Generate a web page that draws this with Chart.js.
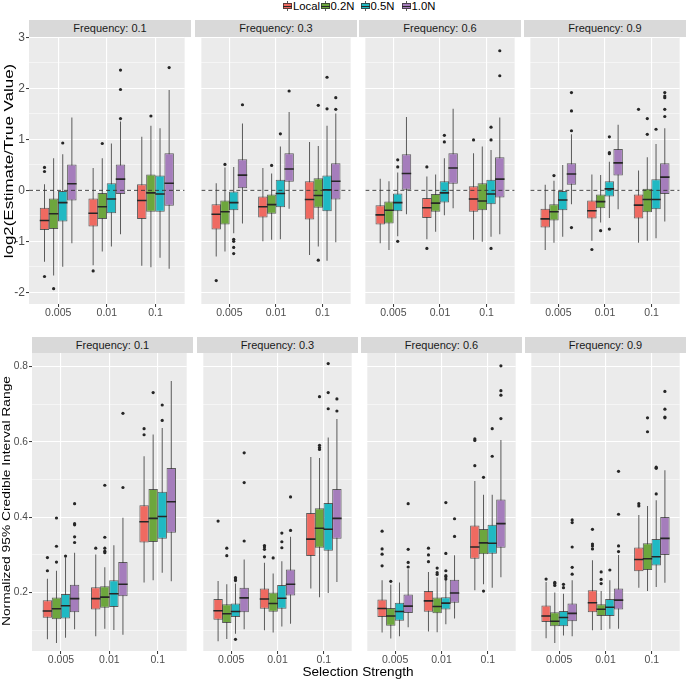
<!DOCTYPE html>
<html>
<head>
<meta charset="utf-8">
<script src="https://cdn.jsdelivr.net/npm/chart.js@4.4.1/dist/chart.umd.min.js"></script>
<style>
  html, body { margin: 0; padding: 0; background: #fff; }
  #figure { position: relative; width: 686px; height: 679px; overflow: hidden;
            font-family: 'Liberation Sans', Arial, sans-serif; }
  .strip { position: absolute; background: #D9D9D9; color: #1A1A1A; font-size: 11px;
           text-align: center; box-sizing: border-box; }
  .panel { position: absolute; }
  .ytitle { position: absolute; white-space: nowrap; color: #000; line-height: 1; }
  .xtitle { position: absolute; white-space: nowrap; color: #000; transform: translate(-50%, -50%); }
  .item { position: absolute; top: 0; height: 12px; }
  .item span { position: absolute; left: 10px; top: 0; line-height: 12px; font-size: 11.3px; color: #000; white-space: nowrap; }
  .key { position: absolute; left: 0; top: 1px; width: 9px; height: 10px; }
  .key .wh { position: absolute; left: 4px; top: 0; width: 1px; height: 10px; background: #595959; }
  .key .bx { position: absolute; left: 0; top: 2px; width: 9px; height: 6px; box-sizing: border-box;
             border: 1px solid rgba(45,45,45,0.75); }
  .key .md { position: absolute; left: 0; top: 4.5px; width: 9px; height: 1px; background: #262626; }
</style>
</head>
<body>
<div id="figure"></div>
<script>
/* =================================================================
   Boxplots of estimate bias and CI width by selection strength,
   faceted by starting frequency. One Chart.js chart per facet.
================================================================= */

// ── Data ──────────────────────────────────────────
const categories  = ['0.005', '0.01', '0.1'];
const seriesNames = ['Local', '0.2N', '0.5N', '1.0N'];
const frequencies = ['0.1', '0.3', '0.6', '0.9'];

const biasTicks = [-2, -1.5, -1, -0.5, 0, 0.5, 1, 1.5, 2, 2.5, 3];
const biasMajor = [-2, -1, 0, 1, 2, 3];
const ciTicks   = [0.1, 0.2, 0.3, 0.4, 0.5, 0.6, 0.7, 0.8];
const ciMajor   = [0.2, 0.4, 0.6, 0.8];
const refLine   = 0;

// one row per box: [lower whisker, q1, median, q3, upper whisker]
// order: 0.005 (Local, 0.2N, 0.5N, 1.0N), 0.01 (...), 0.1 (...)
const biasF01 = [
  [-1.40, -0.78, -0.59, -0.34, 0.12], [-1.67, -0.76, -0.46, -0.16, 0.63],
  [-1.50, -0.61, -0.24,  0.00, 0.71], [-1.04, -0.20,  0.13,  0.51, 1.43],
  [-1.47, -0.71, -0.45, -0.16, 0.44], [-1.20, -0.56, -0.32, -0.05, 0.63],
  [-1.10, -0.45, -0.17,  0.14, 0.92], [-0.86, -0.07,  0.22,  0.51, 1.35],
  [-1.48, -0.56, -0.20,  0.12, 1.05], [-1.51, -0.42, -0.05,  0.31, 1.27],
  [-1.32, -0.42, -0.07,  0.29, 1.22], [-1.54, -0.30,  0.14,  0.73, 1.97]
];
const biasOutF01 = [[0.45, 0.37, -1.69], [-1.93], [0.93], [], [-1.58], [0.92], [], [1.41, 1.98, 2.36], [], [1.46], [], [2.41]];

const biasF03 = [
  [-1.30, -0.77, -0.47, -0.27, 0.14], [-1.20, -0.67, -0.42, -0.20, 0.45],
  [-0.84, -0.39, -0.24, -0.02, 0.46], [-0.65,  0.04,  0.30,  0.61, 1.31],
  [-1.00, -0.53, -0.32, -0.12, 0.44], [-0.97, -0.46, -0.28, -0.08, 0.33],
  [-0.96, -0.33, -0.06,  0.21, 0.86], [-0.36,  0.17,  0.42,  0.73, 1.54],
  [-1.27, -0.57, -0.18,  0.18, 0.95], [-1.10, -0.34, -0.10,  0.24, 0.87],
  [-1.38, -0.41,  0.01,  0.29, 1.27], [-1.02, -0.18,  0.18,  0.53, 1.51]
];
const biasOutF03 = [[-1.77], [0.51], [-0.96, -1.00, -1.12, -1.24], [1.68], [], [0.49], [1.11], [1.95], [], [1.67, -1.37], [1.60, 2.22], [1.59, 1.82]];

const biasF06 = [
  [-1.04, -0.67, -0.48, -0.29, 0.23], [-1.17, -0.65, -0.39, -0.22, 0.18],
  [-0.90, -0.41, -0.24, -0.06, 0.35], [-0.47,  0.01,  0.33,  0.71, 1.44],
  [-0.96, -0.54, -0.34, -0.15, 0.27], [-0.81, -0.42, -0.25, -0.07, 0.31],
  [-0.49, -0.24, -0.05,  0.18, 0.63], [-0.35,  0.13,  0.44,  0.73, 1.60],
  [-0.97, -0.42, -0.17,  0.08, 0.73], [-1.01, -0.39, -0.21,  0.14, 0.86],
  [-0.91, -0.27, -0.07,  0.21, 0.79], [-0.86, -0.14,  0.22,  0.65, 1.43]
];
const biasOutF06 = [[], [], [0.60, 0.46, -1.00], [], [0.46, -1.14], [], [0.95, 1.08], [], [0.99], [], [0.99, 1.24, -1.14], [2.25, 2.74]];

const biasF09 = [
  [-1.17, -0.73, -0.56, -0.36, 0.11], [-1.03, -0.59, -0.42, -0.27, 0.19],
  [-0.91, -0.39, -0.19, -0.01, 0.50], [-0.27,  0.11,  0.32,  0.53, 1.10],
  [-0.99, -0.55, -0.40, -0.20, 0.31], [-0.63, -0.35, -0.22, -0.08, 0.30],
  [-0.54, -0.12,  0.03,  0.18, 0.56], [-0.37,  0.29,  0.54,  0.81, 1.29],
  [-1.03, -0.55, -0.29, -0.08, 0.39], [-0.99, -0.43, -0.18,  0.03, 0.65],
  [-0.94, -0.37, -0.18,  0.22, 0.91], [-0.61, -0.07,  0.26,  0.53, 1.22]
];
const biasOutF09 = [[], [0.29], [], [1.92, 1.56, 1.17, -0.73], [-1.16], [-0.79], [0.74, 0.72, 1.05, -0.76], [], [1.59], [1.41, 1.10], [1.20], [1.45, 1.59, 1.82, 1.85, 1.92]];

const ciF01 = [
  [0.076, 0.133, 0.151, 0.180, 0.237], [0.066, 0.129, 0.157, 0.187, 0.258],
  [0.080, 0.131, 0.165, 0.196, 0.293], [0.103, 0.148, 0.184, 0.221, 0.306],
  [0.084, 0.155, 0.184, 0.214, 0.301], [0.104, 0.160, 0.188, 0.217, 0.267],
  [0.101, 0.162, 0.197, 0.233, 0.326], [0.088, 0.190, 0.222, 0.281, 0.399],
  [0.227, 0.333, 0.388, 0.432, 0.562], [0.233, 0.334, 0.397, 0.475, 0.620],
  [0.253, 0.343, 0.402, 0.468, 0.637], [0.230, 0.359, 0.441, 0.531, 0.762]
];
const ciOutF01 = [[0.258, 0.293], [0.281, 0.323, 0.398], [0.297], [0.333, 0.348, 0.380, 0.383, 0.436], [0.318], [0.306, 0.310, 0.318, 0.347, 0.485], [], [0.479, 0.676], [0.619, 0.635], [0.731], [0.657, 0.698], []];

const ciF03 = [
  [0.071, 0.128, 0.152, 0.183, 0.231], [0.077, 0.119, 0.144, 0.169, 0.222],
  [0.091, 0.135, 0.150, 0.171, 0.224], [0.103, 0.148, 0.186, 0.213, 0.288],
  [0.100, 0.157, 0.183, 0.211, 0.279], [0.094, 0.149, 0.171, 0.200, 0.251],
  [0.110, 0.157, 0.185, 0.220, 0.283], [0.117, 0.192, 0.222, 0.261, 0.348],
  [0.211, 0.297, 0.342, 0.411, 0.560], [0.188, 0.319, 0.371, 0.424, 0.557],
  [0.199, 0.311, 0.368, 0.438, 0.612], [0.228, 0.343, 0.397, 0.475, 0.661]
];
const ciOutF03 = [[0.390], [0.298, 0.318], [0.232, 0.236, 0.240, 0.076], [0.337, 0.492, 0.571], [0.295, 0.315, 0.321, 0.325], [0.292], [0.319, 0.335, 0.358], [0.365, 0.454], [], [0.580, 0.585, 0.591, 0.720], [0.688, 0.731, 0.808], [0.682, 0.714]];

const ciF06 = [
  [0.094, 0.135, 0.158, 0.182, 0.233], [0.078, 0.112, 0.138, 0.159, 0.221],
  [0.084, 0.125, 0.150, 0.173, 0.227], [0.108, 0.146, 0.164, 0.195, 0.262],
  [0.097, 0.149, 0.178, 0.204, 0.255], [0.095, 0.145, 0.163, 0.187, 0.240],
  [0.116, 0.155, 0.172, 0.188, 0.233], [0.131, 0.173, 0.199, 0.234, 0.299],
  [0.206, 0.290, 0.321, 0.378, 0.496], [0.222, 0.302, 0.332, 0.369, 0.460],
  [0.213, 0.303, 0.331, 0.380, 0.460], [0.241, 0.319, 0.383, 0.447, 0.605]
];
const ciOutF06 = [[0.271, 0.302, 0.316, 0.363], [0.230], [], [0.268, 0.280, 0.315, 0.436], [0.282, 0.300, 0.318], [0.248, 0.253, 0.265], [0.236, 0.242, 0.245, 0.258, 0.304, 0.439], [0.349, 0.396], [0.537, 0.604, 0.608], [0.506, 0.204], [0.562, 0.635], [0.662, 0.724, 0.736, 0.802]];

const ciF09 = [
  [0.079, 0.122, 0.138, 0.166, 0.228], [0.066, 0.111, 0.124, 0.148, 0.200],
  [0.086, 0.111, 0.134, 0.151, 0.197], [0.084, 0.124, 0.145, 0.171, 0.233],
  [0.100, 0.148, 0.173, 0.206, 0.286], [0.101, 0.138, 0.156, 0.169, 0.204],
  [0.104, 0.138, 0.161, 0.183, 0.233], [0.104, 0.155, 0.180, 0.211, 0.300],
  [0.213, 0.257, 0.288, 0.320, 0.406], [0.204, 0.260, 0.290, 0.331, 0.430],
  [0.215, 0.272, 0.295, 0.342, 0.445], [0.226, 0.300, 0.344, 0.401, 0.525]
];
const ciOutF09 = [[0.236], [0.219, 0.224, 0.227], [0.213, 0.222], [0.249, 0.267, 0.321, 0.386, 0.393], [0.316, 0.324, 0.329, 0.368], [0.224, 0.235, 0.255], [0.260], [0.309, 0.324, 0.408, 0.522], [0.430, 0.436], [0.627, 0.664], [0.462, 0.530, 0.533], [0.664, 0.666, 0.687, 0.734]];

// ── Layout / style ────────────────────────────────
Chart.defaults.font.family = "'Liberation Sans', Arial, sans-serif";

const FILLS    = ['#EF6A61', '#6DA63D', '#20B9C3', '#A57DBC'];
const PAD_TOP  = 10;
const DODGE    = [-0.28125, -0.09375, 0.09375, 0.28125];
const LEGEND_X = [283, 320.5, 360.5, 401.5];

const ROWS = [
  { top: 37, height: 267, axisH: 18, stripTop: 20, stripH: 17, min: -2.23, max: 3.01,
    lefts: [29, 195, 359, 524], width: 162,
    ticks: biasTicks, major: biasMajor, tickFont: 12, zero: true,
    boxes: [biasF01, biasF03, biasF06, biasF09], outs: [biasOutF01, biasOutF03, biasOutF06, biasOutF09] },
  { top: 353, height: 298, axisH: 17, stripTop: 337, stripH: 16, min: 0.045, max: 0.836,
    lefts: [32, 197, 361, 525], width: 161,
    ticks: ciTicks, major: ciMajor, tickFont: 10.2, zero: false,
    boxes: [ciF01, ciF03, ciF06, ciF09], outs: [ciOutF01, ciOutF03, ciOutF06, ciOutF09] }
];

const panelBg = {
  id: 'panelBg',
  beforeDraw(chart) {
    const { ctx, chartArea: a } = chart;
    ctx.save();
    ctx.fillStyle = '#EBEBEB';
    ctx.fillRect(a.left, a.top, a.width, a.height);
    ctx.restore();
  }
};

// ── Datasets ──────────────────────────────────────

function boxDatasets(boxes, outliers, zero, boxW) {
  const sets = [];
  seriesNames.forEach((name, s) => {
    const pick = categories.map((_, c) => ({ b: boxes[c * 4 + s], x: c + 1 + DODGE[s] }));
    sets.push({
      type: 'bar', label: name + ' whisker', order: 3, grouped: false,
      data: pick.map((p) => ({ x: p.x, y: [p.b[0], p.b[4]] })),
      backgroundColor: '#5A5A5A', borderWidth: 0, barThickness: 1, inflateAmount: 0
    });
    sets.push({
      type: 'bar', label: name, order: 2, grouped: false,
      data: pick.map((p) => ({ x: p.x, y: [p.b[1], p.b[3]] })),
      backgroundColor: FILLS[s], borderColor: 'rgba(45,45,45,0.75)', borderWidth: 1,
      borderSkipped: false, barThickness: boxW, inflateAmount: 0
    });
    sets.push({
      type: 'scatter', label: name + ' median', order: 1,
      data: pick.map((p) => ({ x: p.x, y: p.b[2] })),
      pointStyle: 'line', pointRadius: boxW / 2,
      pointBorderColor: '#262626', pointBorderWidth: 1.6
    });
  });

  const pts = [];
  outliers.forEach((list, i) => {
    const c = Math.floor(i / 4), s = i % 4;
    list.forEach((v) => pts.push({ x: c + 1 + DODGE[s], y: v }));
  });
  sets.push({
    type: 'scatter', label: 'outliers', order: 1, data: pts,
    pointRadius: 1.6, pointBackgroundColor: '#262626', pointBorderWidth: 0
  });

  if (zero) {
    sets.push({
      type: 'line', label: 'zero', order: 0,
      data: [{ x: 0.4, y: refLine }, { x: 3.6, y: refLine }],
      borderColor: '#333', borderWidth: 0.9, borderDash: [4, 3], pointRadius: 0
    });
  }
  return sets;
}

// ── Panels ────────────────────────────────────────

function makePanel(fig, row, col) {
  const showY = col === 0;
  const pl    = row.lefts[col];
  const left  = showY ? 0 : pl;
  const w     = showY ? row.width + pl : row.width;
  const h     = PAD_TOP + row.height + row.axisH;
  const boxW  = row.width / 3.2 * 0.1875;

  const strip = document.createElement('div');
  strip.className = 'strip';
  Object.assign(strip.style, {
    left: pl + 'px', top: row.stripTop + 'px', width: row.width + 'px',
    height: row.stripH + 'px', lineHeight: row.stripH + 'px'
  });
  strip.textContent = 'Frequency: ' + frequencies[col];
  fig.appendChild(strip);

  const canvas = document.createElement('canvas');
  canvas.className = 'panel';
  canvas.width = w;
  canvas.height = h;
  Object.assign(canvas.style, { left: left + 'px', top: (row.top - PAD_TOP) + 'px', width: w + 'px', height: h + 'px' });
  fig.appendChild(canvas);

  const isMajor = (v) => row.major.some((m) => Math.abs(m - v) < 1e-9);

  new Chart(canvas, {
    type: 'scatter',
    data: { datasets: boxDatasets(row.boxes[col], row.outs[col], row.zero, boxW) },
    plugins: [panelBg],
    options: {
      responsive: false, animation: false, events: [],
      layout: { padding: { top: PAD_TOP, left: 0, right: 0, bottom: 0 } },
      plugins: { legend: { display: false }, tooltip: { enabled: false } },
      scales: {
        x: {
          type: 'linear', min: 0.4, max: 3.6, offset: false,
          afterBuildTicks: (s) => { s.ticks = categories.map((_, i) => ({ value: i + 1 })); },
          afterFit: (s) => { s.height = row.axisH; },
          grid: { color: '#FFFFFF', lineWidth: 1.1, tickLength: 3, tickColor: '#333', tickWidth: 1, offset: false },
          border: { display: false },
          ticks: {
            padding: 0, color: '#4D4D4D', font: { size: 10.5 }, autoSkip: false, maxRotation: 0,
            callback: (v) => categories[Math.round(v) - 1]
          }
        },
        y: {
          type: 'linear', min: row.min, max: row.max, beginAtZero: false, offset: false,
          afterBuildTicks: (s) => { s.ticks = row.ticks.map((v) => ({ value: v })); },
          afterFit: (s) => { s.width = showY ? pl : 0; },
          grid: {
            color: '#FFFFFF',
            lineWidth: (ctx) => (isMajor(ctx.tick.value) ? 1.1 : 0.5),
            drawTicks: showY, tickLength: 3, tickWidth: 1,
            tickColor: (ctx) => (isMajor(ctx.tick.value) ? '#333' : 'rgba(0,0,0,0)')
          },
          border: { display: false },
          ticks: {
            display: showY, padding: 1, color: '#4D4D4D', font: { size: row.tickFont },
            callback: (v) => (isMajor(v) ? String(v) : '')
          }
        }
      }
    }
  });
}

// ── Figure text ───────────────────────────────────

function addText(fig, cls, text, x, y, size) {
  const el = document.createElement('div');
  el.className = cls;
  el.textContent = text;
  Object.assign(el.style, { left: x + 'px', top: y + 'px', fontSize: size + 'px' });
  fig.appendChild(el);
  return el;
}

// the source image is stretched vertically, so rotated titles run long
function addYTitle(fig, text, x, y, size, stretch) {
  const el = addText(fig, 'ytitle', text, x, y, size);
  el.style.transform = `translate(-50%, -50%) rotate(-90deg) scaleX(${stretch})`;
}

function addLegend(fig) {
  seriesNames.forEach((name, s) => {
    const item = document.createElement('div');
    item.className = 'item';
    item.style.left = LEGEND_X[s] + 'px';
    item.innerHTML = `<div class="key"><div class="wh"></div><div class="bx" style="background:${FILLS[s]}"></div><div class="md"></div></div><span>${name}</span>`;
    fig.appendChild(item);
  });
}

const fig = document.getElementById('figure');
ROWS.forEach((row) => frequencies.forEach((_, col) => makePanel(fig, row, col)));
addLegend(fig);
addYTitle(fig, 'log2(Estimate/True Value)', 7.5, 161, 13, 1.3);
addYTitle(fig, 'Normalized 95% Credible Interval Range', 7, 501, 11.5, 1.2);
addText(fig, 'xtitle', 'Selection Strength', 358, 671, 13.6);
</script>
</body>
</html>
